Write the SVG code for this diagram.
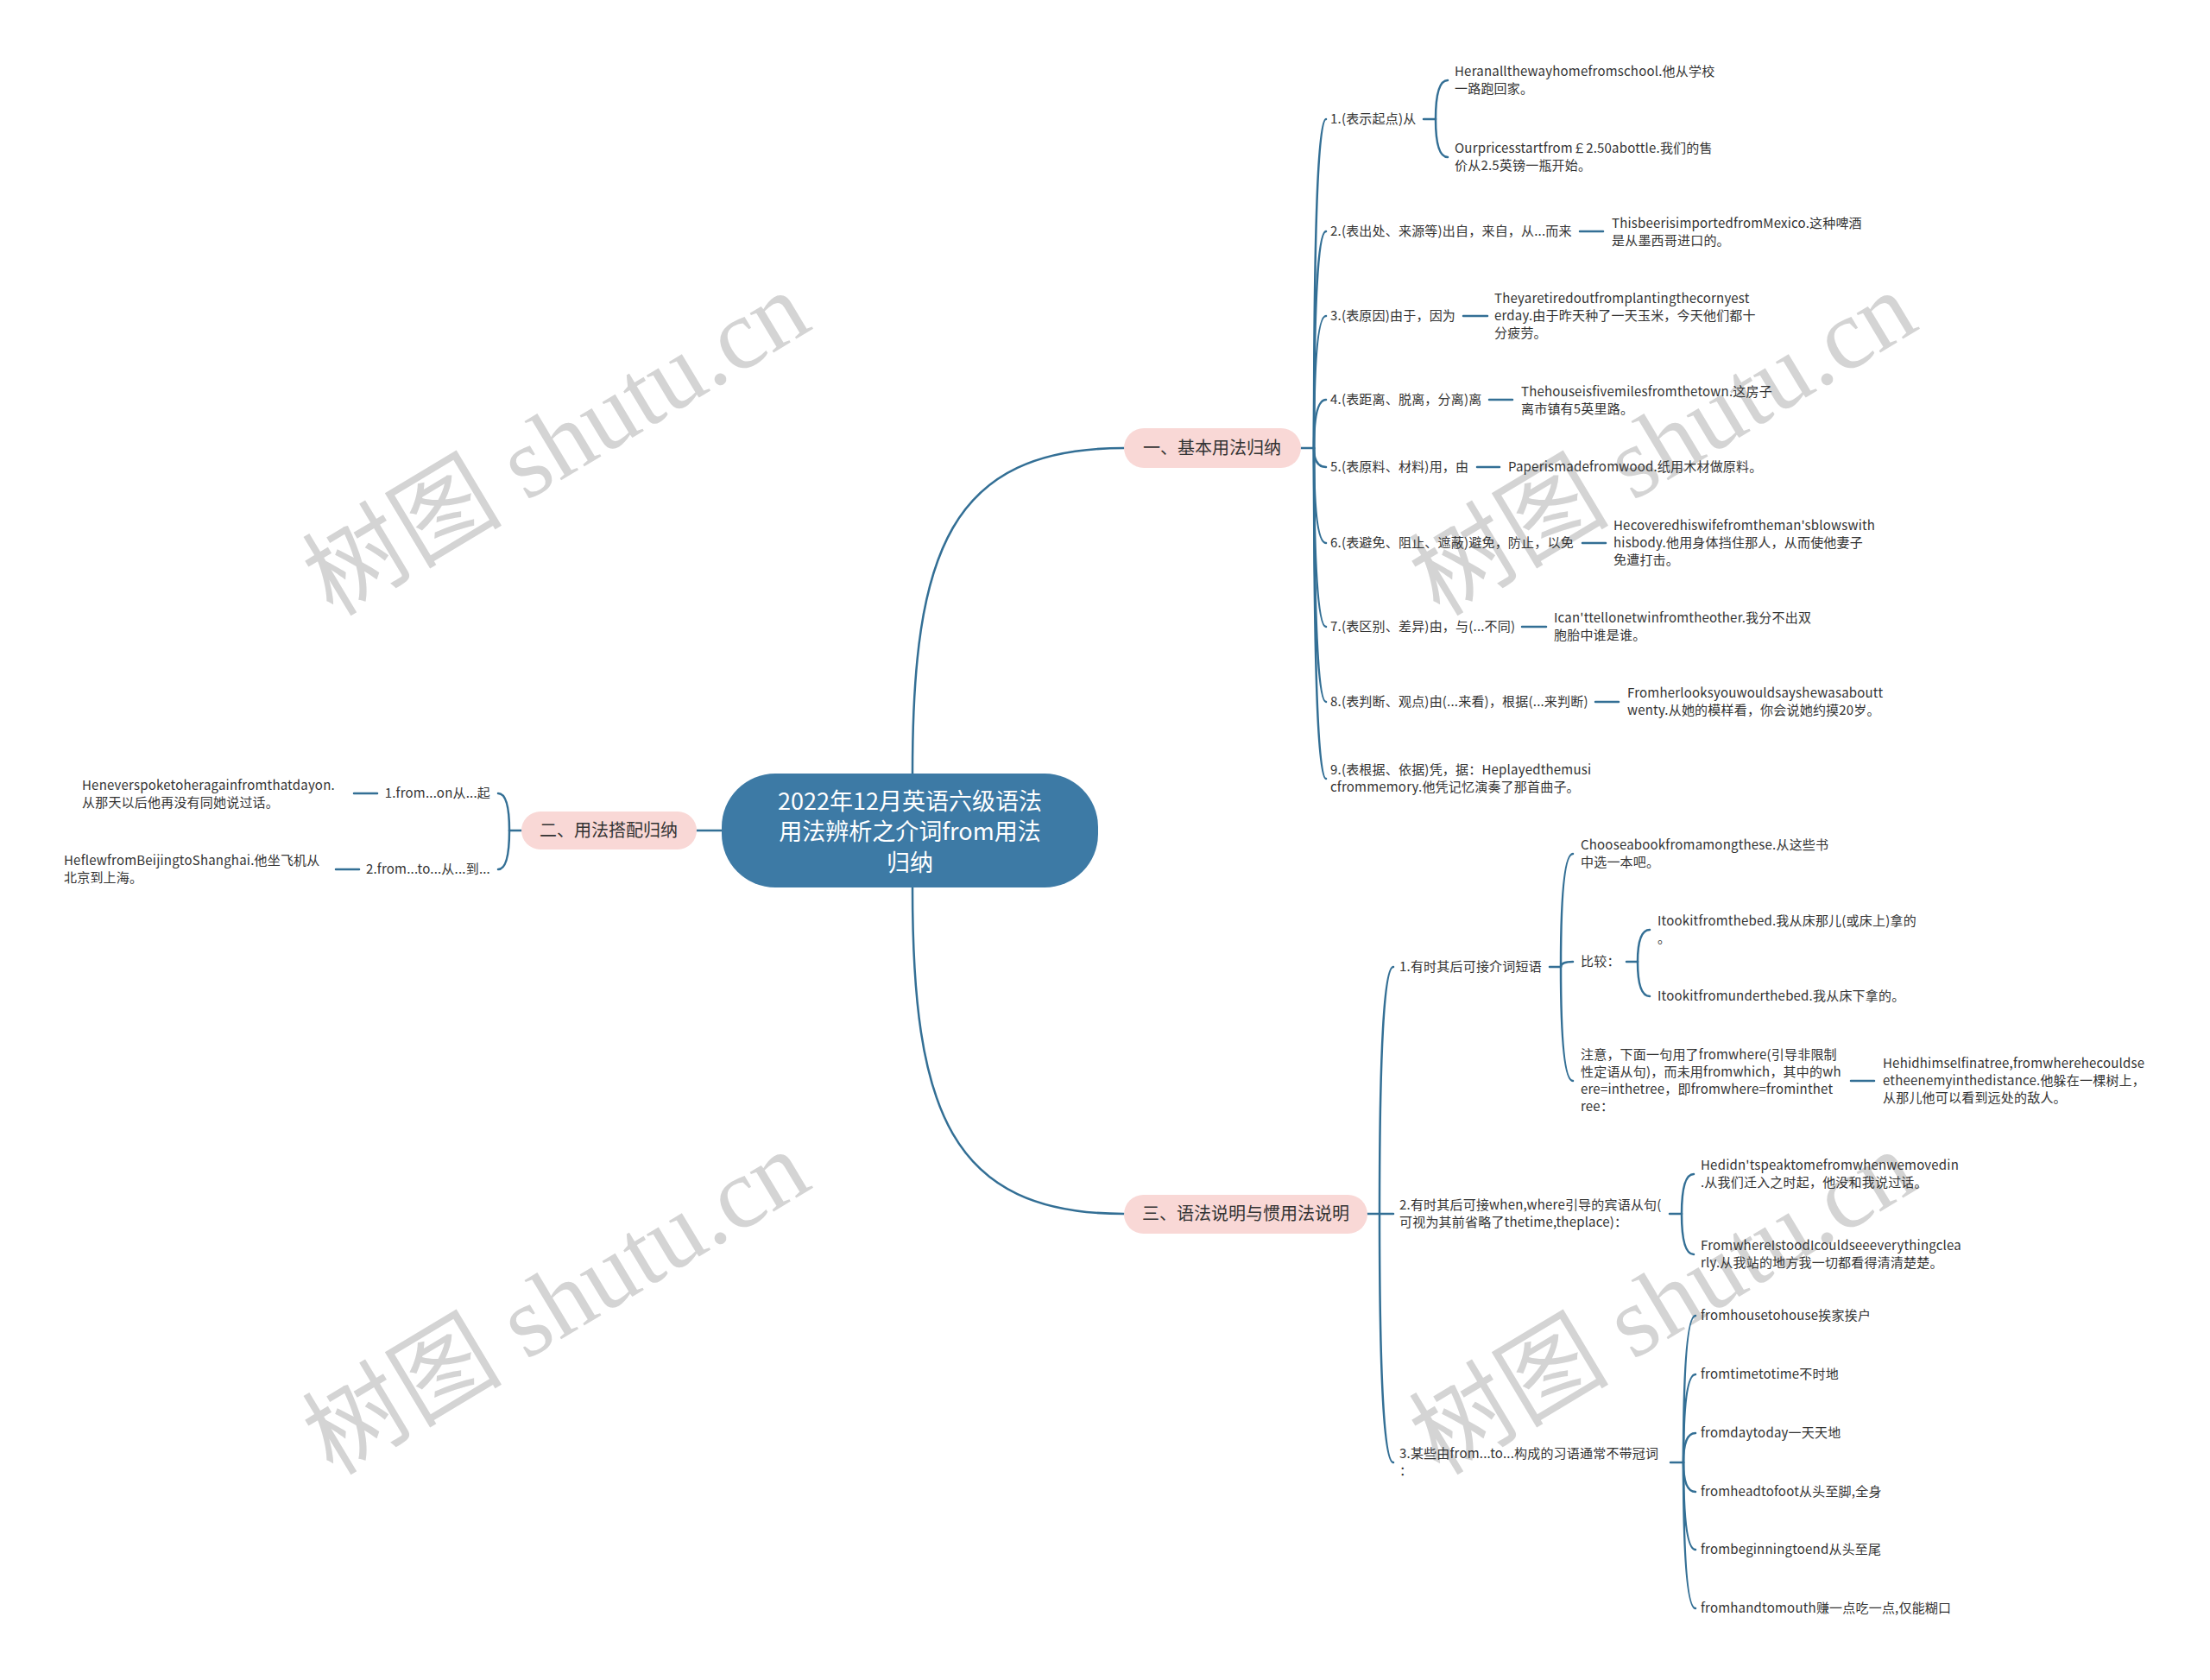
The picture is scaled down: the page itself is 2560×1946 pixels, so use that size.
<svg xmlns="http://www.w3.org/2000/svg" width="2560" height="1946" viewBox="0 0 2560 1946">
<defs>
<style>
.c{fill:none;stroke:#336f95;stroke-width:2.5;stroke-linecap:round}
.t{font-family:"Noto Sans CJK SC","Liberation Sans",sans-serif;font-size:15px;letter-spacing:0.2px;fill:#333}
.e{text-anchor:end}
.l1 rect{fill:#f9d8d6}
.l1 text{font-family:"Noto Sans CJK SC","Liberation Sans",sans-serif;font-size:20px;fill:#333;text-anchor:middle}
.root text{font-family:"Noto Sans CJK SC","Liberation Sans",sans-serif;font-size:27px;fill:#fff;text-anchor:middle}
.wm{font-family:"Liberation Serif","Noto Sans CJK SC",serif;font-size:116px;fill:#d4d4d4;text-anchor:middle}
</style>
</defs>
<rect width="2560" height="1946" fill="#fff"/>
<g id="watermarks">
<text class="wm" x="645" y="553" transform="rotate(-31 645 515)">树图 shutu.cn</text>
<text class="wm" x="1927" y="553" transform="rotate(-31 1927 515)">树图 shutu.cn</text>
<text class="wm" x="645" y="1548" transform="rotate(-31 645 1510)">树图 shutu.cn</text>
<text class="wm" x="1927" y="1548" transform="rotate(-31 1927 1510)">树图 shutu.cn</text>
</g>
<g id="connectors">
<path class="c" d="M1057,896 C1057,640 1100,519 1302,519"/>
<path class="c" d="M1057,1028 C1057,1285 1100,1406 1302,1406"/>
<path class="c" d="M836,962 H807"/>
<path class="c" d="M1507,519 H1522"/>
<path class="c" d="M1522,519 Q1522,138 1536,138"/>
<path class="c" d="M1522,519 Q1522,268 1536,268"/>
<path class="c" d="M1522,519 Q1522,366 1536,366"/>
<path class="c" d="M1522,519 Q1522,463 1536,463"/>
<path class="c" d="M1522,519 Q1522,541 1536,541"/>
<path class="c" d="M1522,519 Q1522,629 1536,629"/>
<path class="c" d="M1522,519 Q1522,726 1536,726"/>
<path class="c" d="M1522,519 Q1522,813 1536,813"/>
<path class="c" d="M1522,519 Q1522,902 1536,902"/>
<path class="c" d="M1649,138 H1663"/>
<path class="c" d="M1663,138 Q1663,93 1677,93"/>
<path class="c" d="M1663,138 Q1663,182 1677,182"/>
<path class="c" d="M1830,268 H1857"/>
<path class="c" d="M1695,366 H1723"/>
<path class="c" d="M1725,463 H1752"/>
<path class="c" d="M1711,541 H1737"/>
<path class="c" d="M1833,629 H1860"/>
<path class="c" d="M1763,726 H1791"/>
<path class="c" d="M1848,813 H1875"/>
<path class="c" d="M604,962 H590"/>
<path class="c" d="M590,962 Q590,919 577,919"/>
<path class="c" d="M590,962 Q590,1007 577,1007"/>
<path class="c" d="M437,919 H410"/>
<path class="c" d="M416,1007 H389"/>
<path class="c" d="M1584,1406 H1598"/>
<path class="c" d="M1598,1406 Q1598,1120 1614,1120"/>
<path class="c" d="M1598,1406 H1614"/>
<path class="c" d="M1598,1406 Q1598,1694 1614,1694"/>
<path class="c" d="M1795,1120 H1808"/>
<path class="c" d="M1808,1120 Q1808,989 1822,989"/>
<path class="c" d="M1808,1120 Q1808,1114 1822,1114"/>
<path class="c" d="M1808,1120 Q1808,1252 1822,1252"/>
<path class="c" d="M1884,1114 H1897"/>
<path class="c" d="M1897,1114 Q1897,1077 1911,1077"/>
<path class="c" d="M1897,1114 Q1897,1154 1911,1154"/>
<path class="c" d="M2144,1252 H2171"/>
<path class="c" d="M1934,1406 H1948"/>
<path class="c" d="M1948,1406 Q1948,1360 1962,1360"/>
<path class="c" d="M1948,1406 Q1948,1453 1962,1453"/>
<path class="c" d="M1935,1694 H1950"/>
<path class="c" d="M1950,1694 Q1950,1524 1964,1524"/>
<path class="c" d="M1950,1694 Q1950,1592 1964,1592"/>
<path class="c" d="M1950,1694 Q1950,1660 1964,1660"/>
<path class="c" d="M1950,1694 Q1950,1728 1964,1728"/>
<path class="c" d="M1950,1694 Q1950,1795 1964,1795"/>
<path class="c" d="M1950,1694 Q1950,1863 1964,1863"/>
</g>
<g id="root" class="root">
<rect x="836" y="896" width="436" height="132" rx="62" fill="#3d7aa5"/>
<text x="1054" y="938">2022年12月英语六级语法</text>
<text x="1054" y="973">用法辨析之介词from用法</text>
<text x="1054" y="1009">归纳</text>
</g>
<g id="n1" class="l1"><rect x="1302" y="496" width="205" height="46" rx="23"/><text x="1404" y="526">一、基本用法归纳</text></g>
<g id="n2" class="l1"><rect x="604" y="940" width="203" height="44" rx="22"/><text x="705" y="969">二、用法搭配归纳</text></g>
<g id="n3" class="l1"><rect x="1302" y="1384" width="282" height="45" rx="22.5"/><text x="1443" y="1413">三、语法说明与惯用法说明</text></g>
<g id="n1-1"><text class="t" x="1541" y="143">1.(表示起点)从</text></g>
<g id="n1-1a"><text class="t" x="1685" y="88">Heranallthewayhomefromschool.他从学校</text><text class="t" x="1685" y="108">一路跑回家。</text></g>
<g id="n1-1b"><text class="t" x="1685" y="177">Ourpricesstartfrom￡2.50abottle.我们的售</text><text class="t" x="1685" y="197">价从2.5英镑一瓶开始。</text></g>
<g id="n1-2"><text class="t" x="1541" y="273">2.(表出处、来源等)出自，来自，从...而来</text></g>
<g id="n1-2a"><text class="t" x="1867" y="264">ThisbeerisimportedfromMexico.这种啤酒</text><text class="t" x="1867" y="284">是从墨西哥进口的。</text></g>
<g id="n1-3"><text class="t" x="1541" y="371">3.(表原因)由于，因为</text></g>
<g id="n1-3a"><text class="t" x="1731" y="351">Theyaretiredoutfromplantingthecornyest</text><text class="t" x="1731" y="371">erday.由于昨天种了一天玉米，今天他们都十</text><text class="t" x="1731" y="391">分疲劳。</text></g>
<g id="n1-4"><text class="t" x="1541" y="468">4.(表距离、脱离，分离)离</text></g>
<g id="n1-4a"><text class="t" x="1762" y="459">Thehouseisfivemilesfromthetown.这房子</text><text class="t" x="1762" y="479">离市镇有5英里路。</text></g>
<g id="n1-5"><text class="t" x="1541" y="546">5.(表原料、材料)用，由</text></g>
<g id="n1-5a"><text class="t" x="1747" y="546">Paperismadefromwood.纸用木材做原料。</text></g>
<g id="n1-6"><text class="t" x="1541" y="634">6.(表避免、阻止、遮蔽)避免，防止，以免</text></g>
<g id="n1-6a"><text class="t" x="1869" y="614">Hecoveredhiswifefromtheman'sblowswith</text><text class="t" x="1869" y="634">hisbody.他用身体挡住那人，从而使他妻子</text><text class="t" x="1869" y="654">免遭打击。</text></g>
<g id="n1-7"><text class="t" x="1541" y="731">7.(表区别、差异)由，与(...不同)</text></g>
<g id="n1-7a"><text class="t" x="1800" y="721">Ican'ttellonetwinfromtheother.我分不出双</text><text class="t" x="1800" y="741">胞胎中谁是谁。</text></g>
<g id="n1-8"><text class="t" x="1541" y="818">8.(表判断、观点)由(...来看)，根据(...来判断)</text></g>
<g id="n1-8a"><text class="t" x="1885" y="808">Fromherlooksyouwouldsayshewasaboutt</text><text class="t" x="1885" y="828">wenty.从她的模样看，你会说她约摸20岁。</text></g>
<g id="n1-9"><text class="t" x="1541" y="897">9.(表根据、依据)凭，据：Heplayedthemusi</text><text class="t" x="1541" y="917">cfrommemory.他凭记忆演奏了那首曲子。</text></g>
<g id="n2-1"><text class="t e" x="568" y="924">1.from...on从...起</text></g>
<g id="n2-1a"><text class="t" x="95" y="915">Heneverspoketoheragainfromthatdayon.</text><text class="t" x="95" y="935">从那天以后他再没有同她说过话。</text></g>
<g id="n2-2"><text class="t e" x="568" y="1012">2.from...to...从...到...</text></g>
<g id="n2-2a"><text class="t" x="74" y="1002">HeflewfromBeijingtoShanghai.他坐飞机从</text><text class="t" x="74" y="1022">北京到上海。</text></g>
<g id="n3-1"><text class="t" x="1621" y="1125">1.有时其后可接介词短语</text></g>
<g id="n3-1a"><text class="t" x="1831" y="984">Chooseabookfromamongthese.从这些书</text><text class="t" x="1831" y="1004">中选一本吧。</text></g>
<g id="n3-1b"><text class="t" x="1831" y="1119">比较：</text></g>
<g id="n3-1b1"><text class="t" x="1920" y="1072">Itookitfromthebed.我从床那儿(或床上)拿的</text><text class="t" x="1920" y="1092">。</text></g>
<g id="n3-1b2"><text class="t" x="1920" y="1159">Itookitfromunderthebed.我从床下拿的。</text></g>
<g id="n3-1c"><text class="t" x="1831" y="1227">注意，下面一句用了fromwhere(引导非限制</text><text class="t" x="1831" y="1247">性定语从句)，而未用fromwhich，其中的wh</text><text class="t" x="1831" y="1267">ere=inthetree，即fromwhere=frominthet</text><text class="t" x="1831" y="1287">ree：</text></g>
<g id="n3-1c1"><text class="t" x="2181" y="1237">Hehidhimselfinatree,fromwherehecouldse</text><text class="t" x="2181" y="1257">etheenemyinthedistance.他躲在一棵树上，</text><text class="t" x="2181" y="1277">从那儿他可以看到远处的敌人。</text></g>
<g id="n3-2"><text class="t" x="1621" y="1401">2.有时其后可接when,where引导的宾语从句(</text><text class="t" x="1621" y="1421">可视为其前省略了thetime,theplace)：</text></g>
<g id="n3-2a"><text class="t" x="1970" y="1355">Hedidn'tspeaktomefromwhenwemovedin</text><text class="t" x="1970" y="1375">.从我们迁入之时起，他没和我说过话。</text></g>
<g id="n3-2b"><text class="t" x="1970" y="1448">FromwhereIstoodIcouldseeeverythingclea</text><text class="t" x="1970" y="1468">rly.从我站的地方我一切都看得清清楚楚。</text></g>
<g id="n3-3"><text class="t" x="1621" y="1689">3.某些由from...to...构成的习语通常不带冠词</text><text class="t" x="1621" y="1709">：</text></g>
<g id="n3-3a"><text class="t" x="1970" y="1529">fromhousetohouse挨家挨户</text></g>
<g id="n3-3b"><text class="t" x="1970" y="1597">fromtimetotime不时地</text></g>
<g id="n3-3c"><text class="t" x="1970" y="1665">fromdaytoday一天天地</text></g>
<g id="n3-3d"><text class="t" x="1970" y="1733">fromheadtofoot从头至脚,全身</text></g>
<g id="n3-3e"><text class="t" x="1970" y="1800">frombeginningtoend从头至尾</text></g>
<g id="n3-3f"><text class="t" x="1970" y="1868">fromhandtomouth赚一点吃一点,仅能糊口</text></g>
</svg>
